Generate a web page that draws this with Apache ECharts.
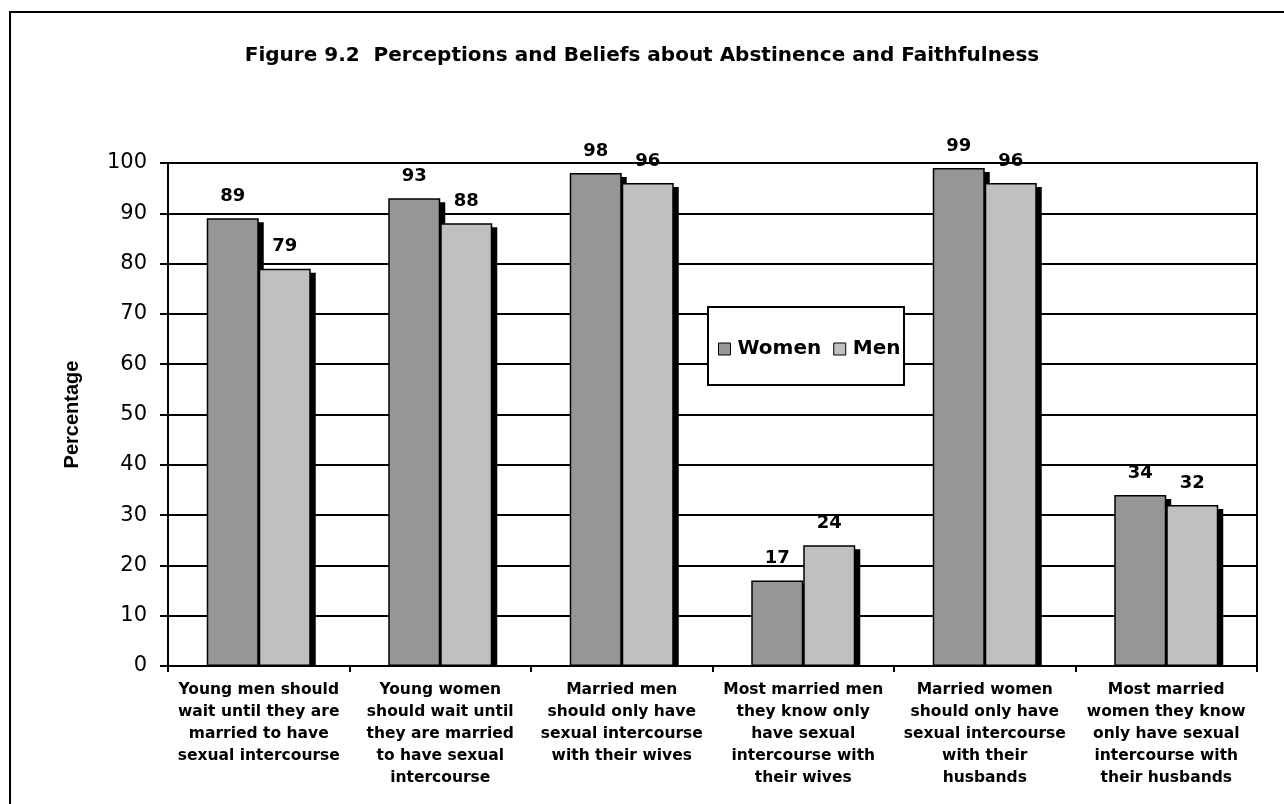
<!DOCTYPE html>
<html>
<head>
<meta charset="utf-8">
<script src="https://cdn.jsdelivr.net/npm/echarts@6/dist/echarts.min.js"></script>
<style>html,body{margin:0;padding:0;background:#fff;}#c{width:1284px;height:804px;}</style>
</head>
<body>
<div id="c"></div>
<script>
const titleText = 'Figure 9.2  Perceptions and Beliefs about Abstinence and Faithfulness';
const categories = [
  'Young men should\nwait until they are\nmarried to have\nsexual intercourse',
  'Young women\nshould wait until\nthey are married\nto have sexual\nintercourse',
  'Married men\nshould only have\nsexual intercourse\nwith their wives',
  'Most married men\nthey know only\nhave sexual\nintercourse with\ntheir wives',
  'Married women\nshould only have\nsexual intercourse\nwith their\nhusbands',
  'Most married\nwomen they know\nonly have sexual\nintercourse with\ntheir husbands'
];
const women = [89, 93, 98, 17, 99, 34];
const men = [79, 88, 96, 24, 96, 32];
const yName = 'Percentage';

const BAR_W = 52;
const chart = echarts.init(document.getElementById('c'), null, {renderer: 'canvas'});

function shadowRenderer(slot) {
  return function (params, api) {
    const i = api.value(0);
    const v = api.value(1);
    const top = api.coord([i, v]);
    const base = api.coord([i, 0]);
    const x0 = top[0] - BAR_W + slot * BAR_W + 5;
    const y0 = top[1] + 4;
    return {
      type: 'rect',
      shape: {x: x0, y: y0, width: BAR_W, height: Math.max(0, base[1] - y0)},
      style: {fill: '#000'}
    };
  };
}

const barStyle = (color) => ({color: color, borderColor: '#000', borderWidth: 1.5});
const labelCfg = {
  show: true,
  position: 'top',
  distance: 13,
  color: '#000',
  fontFamily: 'DejaVu Sans',
  fontWeight: 'bold',
  fontSize: 18
};

chart.setOption({
  animation: false,
  backgroundColor: '#fff',
  title: {
    text: titleText,
    left: 'center',
    top: 41,
    textStyle: {fontFamily: 'DejaVu Sans', fontWeight: 'bold', fontSize: 20, color: '#000'}
  },
  graphic: [
    {type: 'rect', z: -1, shape: {x: 10, y: 12, width: 1400, height: 900}, style: {fill: 'none', stroke: '#000', lineWidth: 2}},
    {type: 'rect', z: 50, shape: {x: 708, y: 307, width: 196, height: 78}, style: {fill: '#fff', stroke: '#000', lineWidth: 2}}
  ],
  legend: {
    z: 60,
    left: 713,
    top: 334,
    itemWidth: 12,
    itemHeight: 12,
    itemGap: 12,
    icon: 'rect',
    data: ['Women', 'Men'],
    itemStyle: {borderColor: '#000', borderWidth: 1},
    textStyle: {fontFamily: 'DejaVu Sans', fontWeight: 'bold', fontSize: 20, color: '#000', padding: [0, 0, 0, 2]}
  },
  grid: {
    left: 168, right: 27, top: 163, bottom: 138,
    show: true, borderColor: '#000', borderWidth: 2, backgroundColor: 'transparent'
  },
  xAxis: {
    type: 'category',
    data: categories,
    axisLine: {lineStyle: {color: '#000', width: 2}},
    axisTick: {show: true, length: 6, interval: 0, lineStyle: {color: '#000', width: 2}},
    axisLabel: {
      interval: 0, margin: 13, color: '#000',
      fontFamily: 'DejaVu Sans', fontWeight: 'bold', fontSize: 15.5, lineHeight: 22
    }
  },
  yAxis: {
    type: 'value',
    min: 0, max: 100, interval: 10,
    name: yName,
    nameLocation: 'middle',
    nameGap: 86,
    nameTextStyle: {fontFamily: 'Liberation Sans', fontWeight: 'bold', fontSize: 20, color: '#000'},
    axisLine: {show: true, lineStyle: {color: '#000', width: 2}},
    axisTick: {show: true, length: 8, lineStyle: {color: '#000', width: 2}},
    axisLabel: {margin: 21, color: '#000', fontFamily: 'DejaVu Sans', fontSize: 21},
    splitLine: {show: true, lineStyle: {color: '#000', width: 2}}
  },
  series: [
    {name: 'shadowWomen', type: 'custom', z: 1, silent: true, renderItem: shadowRenderer(0),
      encode: {x: 0, y: 1}, data: women.map((v, i) => [i, v])},
    {name: 'shadowMen', type: 'custom', z: 1, silent: true, renderItem: shadowRenderer(1),
      encode: {x: 0, y: 1}, data: men.map((v, i) => [i, v])},
    {name: 'Women', type: 'bar', z: 2, data: women, barWidth: BAR_W, barGap: '0%', itemStyle: barStyle('#969696'), label: labelCfg},
    {name: 'Men', type: 'bar', z: 2, data: men, barWidth: BAR_W, barGap: '0%', itemStyle: barStyle('#c0c0c0'), label: labelCfg}
  ]
});
</script>
</body>
</html>
